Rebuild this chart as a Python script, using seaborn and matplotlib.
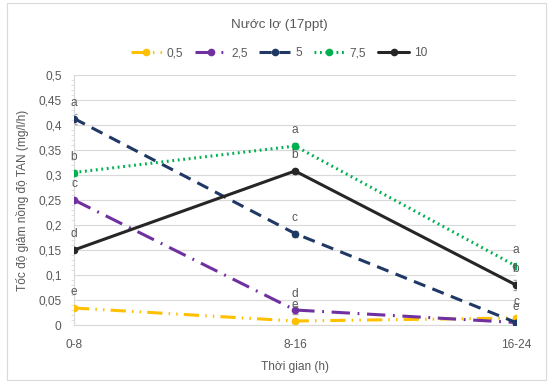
import matplotlib
matplotlib.use('Agg')
import matplotlib.pyplot as plt
import matplotlib.patches as mpatches
from matplotlib.lines import Line2D
from matplotlib.ticker import FuncFormatter, MultipleLocator
import pandas as pd
import seaborn as sns

times = ['0-8', '8-16', '16-24']
series = ['0,5', '2,5', '5', '7,5', '10']

v_05 = [0.034, 0.008, 0.014]
v_25 = [0.250, 0.030, 0.005]
v_5 = [0.413, 0.183, 0.005]
v_75 = [0.305, 0.358, 0.118]
v_10 = [0.150, 0.308, 0.080]

e_05 = [0.003, 0.003, 0.003]
e_25 = [0.003, 0.008, 0.002]
e_5 = [0.010, 0.006, 0.004]
e_75 = [0.006, 0.006, 0.005]
e_10 = [0.004, 0.005, 0.010]

l_05 = ['e', 'e', 'c']
l_25 = ['c', 'd', '']
l_5 = ['a', 'c', 'e']
l_75 = ['b', 'a', 'a']
l_10 = ['d', 'b', 'b']

colors = {'0,5': '#FFC000', '2,5': '#7030A0', '5': '#1F3864',
          '7,5': '#00B050', '10': '#262626'}
dashes = {'0,5': (5, 2, 0.5, 2, 0.5, 2), '2,5': (6, 2.5, 0.6, 2.5),
          '5': (4, 2.5), '7,5': (0.6, 1.2), '10': ''}

vals = [v_05, v_25, v_5, v_75, v_10]
errs = [e_05, e_25, e_5, e_75, e_10]
labs = [l_05, l_25, l_5, l_75, l_10]

rows = []
for name, v, e, l in zip(series, vals, errs, labs):
    for i, t in enumerate(times):
        rows.append({'pos': i, 'time': t, 'series': name, 'value': v[i], 'err': e[i], 'letter': l[i]})
df = pd.DataFrame(rows)

sns.set_style('white')
plt.rcParams['font.family'] = ['Liberation Sans', 'DejaVu Sans']
txt = '#595959'
fs = 8.6

fig = plt.figure(figsize=(5.58, 3.87), dpi=100)
ax = fig.add_axes([74 / 558, 62 / 387, 442 / 558, 250 / 387])

fig.patches.append(mpatches.Rectangle((7 / 558, 7 / 387), 539 / 558, 377 / 387,
                                      transform=fig.transFigure, fill=False,
                                      edgecolor='#D9D9D9', linewidth=0.8))

ax.errorbar(df['pos'], df['value'], yerr=df['err'], fmt='none', ecolor='#A6A6A6',
            elinewidth=0.8, capsize=2.5, zorder=1)

sns.lineplot(data=df, x='pos', y='value', hue='series', style='series',
             hue_order=series, style_order=series, palette=colors, dashes=dashes,
             markers={s: 'o' for s in series}, markersize=5.5, markeredgewidth=0,
             linewidth=2.2, legend=False, ax=ax, zorder=3)

for _, r in df.iterrows():
    if r['letter']:
        ax.annotate(r['letter'], (r['pos'], r['value']), xytext=(0, 7),
                    textcoords='offset points', ha='center', va='bottom',
                    fontsize=fs, color=txt)

ax.set_xlim(0, 2)
ax.set_ylim(0, 0.5)
ax.set_xticks(range(len(times)))
ax.set_xticklabels(times)
ax.yaxis.set_major_locator(MultipleLocator(0.05))
ax.yaxis.set_minor_locator(MultipleLocator(0.01))
ax.yaxis.set_major_formatter(FuncFormatter(lambda v, p: ('%g' % round(v, 2)).replace('.', ',')))
ax.grid(axis='y', color='#D9D9D9', linewidth=0.8)
ax.set_axisbelow(True)
for s in ['top', 'right']:
    ax.spines[s].set_visible(False)
ax.spines['left'].set_color('#D9D9D9')
ax.spines['bottom'].set_color('#D9D9D9')
ax.tick_params(axis='y', which='major', length=0, labelsize=fs, labelcolor=txt, pad=9)
ax.tick_params(axis='y', which='minor', length=2, color='#D9D9D9', left=True)
ax.tick_params(axis='x', length=0, labelsize=fs, labelcolor=txt, pad=10)
ax.set_xlabel('Thời gian (h)', fontsize=fs, color=txt, labelpad=7)
ax.set_ylabel('Tốc độ giảm nồng độ TAN (mg/l/h)', fontsize=fs, color=txt, labelpad=7)

fig.text(0.5, 1 - 25 / 387, 'Nước lợ (17ppt)', ha='center', va='center', fontsize=9.7, color=txt)
handles = [Line2D([0], [0], color=colors[s], linewidth=2.2,
                  dashes=dashes[s] if dashes[s] else (None, None),
                  marker='o', markersize=5.5, markeredgewidth=0) for s in series]
fig.legend(handles, series, loc='center', bbox_to_anchor=(0.5, 1 - 53 / 387), ncol=5,
           frameon=False, fontsize=fs, labelcolor=txt, handlelength=2.6, columnspacing=1.0,
           handletextpad=0.4)

fig.savefig('out.png', dpi=100)
